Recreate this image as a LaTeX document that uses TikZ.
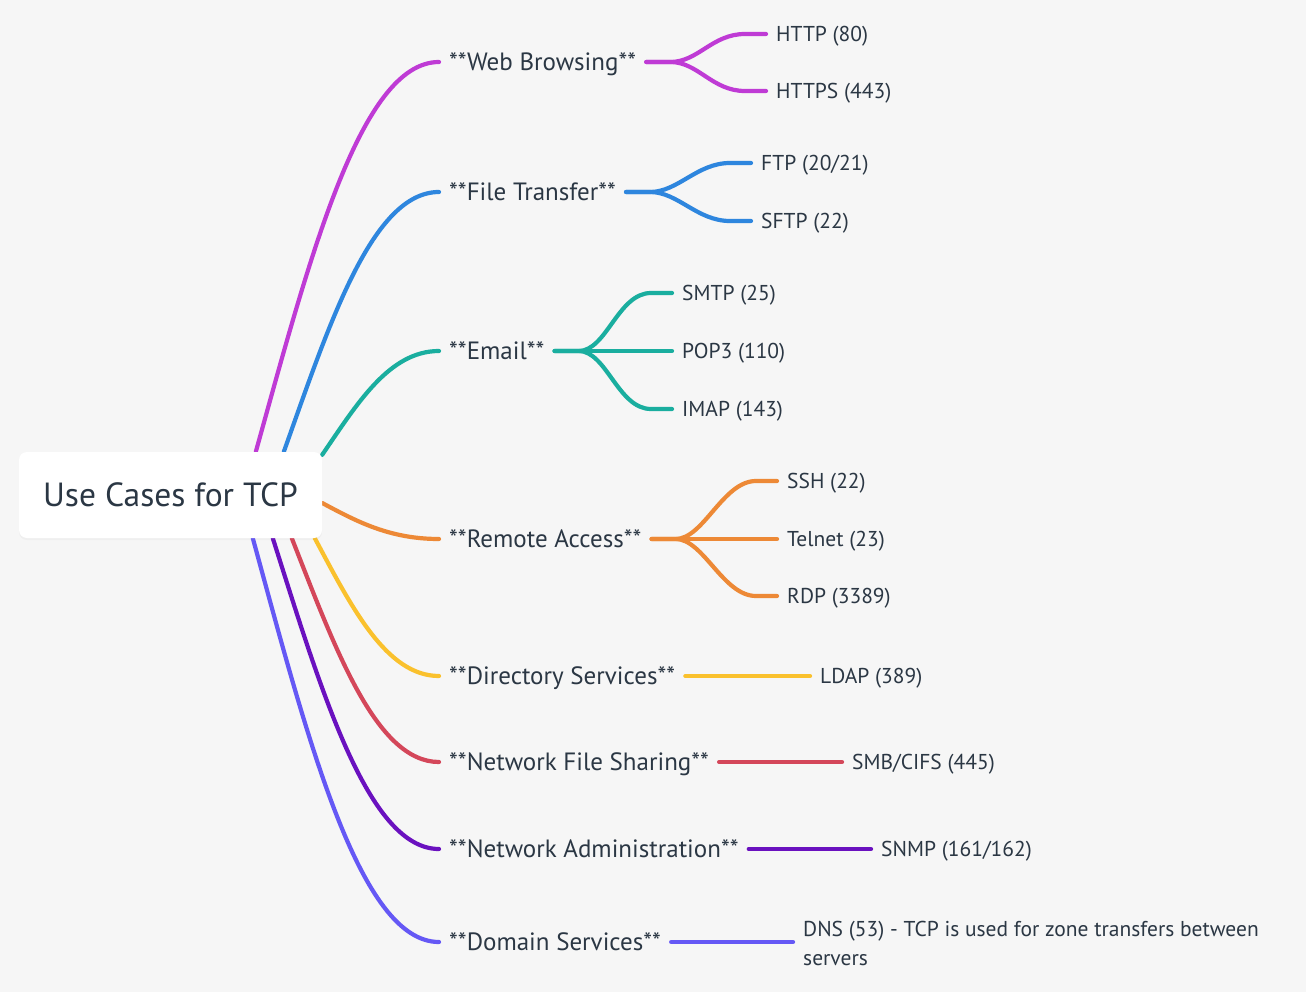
\documentclass[tikz,border=0pt]{standalone}
\usepackage{fontspec}
\setmainfont{PT Sans}
\usetikzlibrary{calc,shadows}
\definecolor{bg}{HTML}{F6F6F6}
\definecolor{txt}{HTML}{2B3744}
\definecolor{cweb}{HTML}{BF3BD5}
\definecolor{cfile}{HTML}{2E86DE}
\definecolor{cmail}{HTML}{1AAE9F}
\definecolor{cremote}{HTML}{ED8936}
\definecolor{cdir}{HTML}{FAC12D}
\definecolor{cnfs}{HTML}{D4475A}
\definecolor{cadmin}{HTML}{6A11BF}
\definecolor{cdom}{HTML}{6558F5}
\tikzset{
  conn/.style={line width=4.2pt, line cap=round},
  rootbox/.style={fill=white, rounded corners=8pt, minimum width=303pt, minimum height=86pt,
    inner sep=0pt, text=txt, font=\fontsize{33.5}{38}\selectfont,
    drop shadow={opacity=0.06, shadow xshift=0pt, shadow yshift=-2pt}},
  branch/.style={anchor=west, inner xsep=10pt, inner ysep=0pt, text=txt,
    font=\fontsize{25}{29}\selectfont, text height=21.9pt, text depth=4.4pt},
  leaf/.style={anchor=west, inner xsep=10pt, inner ysep=0pt, text=txt,
    font=\fontsize{21.5}{25}\selectfont, text height=19.1pt, text depth=4.05pt},
  leafcurve/.style={to path={-- ++(24,0) .. controls +(28,0) and +(-33,0) .. ([xshift=-21pt]\tikztotarget) -- (\tikztotarget)}}
}
\begin{document}
\begin{tikzpicture}[x=1pt,y=-1pt]
\useasboundingbox[fill=bg] (0,0) rectangle (1306,992);
% root frame (the visible box is drawn over the curves later)
\path (170.5,495) coordinate (rc);
\node[minimum width=303pt, minimum height=86pt, inner sep=0pt] (root) at (rc) {};
% branch labels
\node[branch] (b1) at (439,62) {**Web Browsing**};
\node[branch] (b2) at (439,192) {**File Transfer**};
\node[branch] (b3) at (439,351) {**Email**};
\node[branch] (b4) at (439,539) {**Remote Access**};
\node[branch] (b5) at (439,676) {**Directory Services**};
\node[branch] (b6) at (439,762) {**Network File Sharing**};
\node[branch] (b7) at (439,849) {**Network Administration**};
\node[branch] (b8) at (439,942) {**Domain Services**};
% leaves
\node[leaf] (l11) at (766,34) {HTTP (80)};
\node[leaf] (l12) at (766,91) {HTTPS (443)};
\node[leaf] (l21) at (751,163) {FTP (20/21)};
\node[leaf] (l22) at (751,221) {SFTP (22)};
\node[leaf] (l31) at (672,293) {SMTP (25)};
\node[leaf] (l32) at (672,351) {POP3 (110)};
\node[leaf] (l33) at (672,409) {IMAP (143)};
\node[leaf] (l41) at (777,481) {SSH (22)};
\node[leaf] (l42) at (777,539) {Telnet (23)};
\node[leaf] (l43) at (777,596) {RDP (3389)};
\node[leaf] (l51) at (810,676) {LDAP (389)};
\node[leaf] (l61) at (842,762) {SMB/CIFS (445)};
\node[leaf] (l71) at (871,849) {SNMP (161/162)};
\node[anchor=base west, inner xsep=10pt, inner ysep=0pt, text=txt, align=left,
  font=\fontsize{21.5}{29}\selectfont] (dns) at (793,965.5)
  {DNS (53) - TCP is used for zone transfers between\\servers};
\path (b8.east -| dns.west) coordinate (dnsin);
% root to branches
\draw[conn, cweb]    ([xshift=237pt]root.north west) .. controls (309,261) and (360,62) .. (b1.west);
\draw[conn, cfile]   ([xshift=265pt]root.north west) .. controls (329,325) and (372,192) .. (b2.west);
\draw[conn, cmail]   ([yshift=-3pt]root.north east) .. controls (357,404) and (389,351) .. (b3.west);
\draw[conn, cremote] ([yshift=-8pt]root.east) .. controls (356,521) and (389,539) .. (b4.west);
\draw[conn, cdir]    ([xshift=296pt]root.south west) .. controls (351,606) and (386,676) .. (b5.west);
\draw[conn, cnfs]    ([xshift=273pt]root.south west) .. controls (335,648) and (376,762) .. (b6.west);
\draw[conn, cadmin]  ([xshift=254pt]root.south west) .. controls (321,690) and (368,849) .. (b7.west);
\draw[conn, cdom]    ([xshift=234pt]root.south west) .. controls (307,736) and (359,942) .. (b8.west);
% root box on top
\node[rootbox] (rootbox) at (rc) {Use Cases for TCP};
% branches to leaves
\draw[conn, cweb] (b1.east) to[leafcurve] (l11.west);
\draw[conn, cweb] (b1.east) to[leafcurve] (l12.west);
\draw[conn, cfile] (b2.east) to[leafcurve] (l21.west);
\draw[conn, cfile] (b2.east) to[leafcurve] (l22.west);
\draw[conn, cmail] (b3.east) to[leafcurve] (l31.west);
\draw[conn, cmail] (b3.east) -- (l32.west);
\draw[conn, cmail] (b3.east) to[leafcurve] (l33.west);
\draw[conn, cremote] (b4.east) to[leafcurve] (l41.west);
\draw[conn, cremote] (b4.east) -- (l42.west);
\draw[conn, cremote] (b4.east) to[leafcurve] (l43.west);
\draw[conn, cdir] (b5.east) -- (l51.west);
\draw[conn, cnfs] (b6.east) -- (l61.west);
\draw[conn, cadmin] (b7.east) -- (l71.west);
\draw[conn, cdom] (b8.east) -- (dnsin);
\end{tikzpicture}
\end{document}
